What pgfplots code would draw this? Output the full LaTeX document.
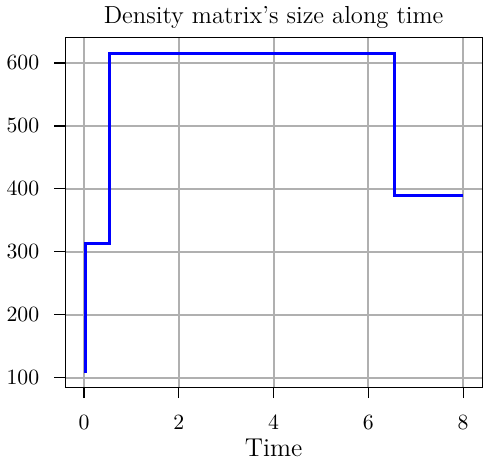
\documentclass[border=0pt]{standalone}
\usepackage{pgfplots}
\pgfplotsset{compat=1.18}
\definecolor{gridgray}{RGB}{176,176,176}
\begin{document}
\begin{tikzpicture}
\begin{axis}[
    scale only axis,
    width=210pt, height=176pt,
    xmin=-0.4, xmax=8.4,
    ymin=85, ymax=640,
    xtick={0,2,4,6,8},
    ytick={100,200,300,400,500,600},
    tick align=outside,
    tick pos=left,
    major tick length=5.5pt,
    tick style={black, line width=0.6pt},
    axis line style={line width=0.6pt},
    grid=major,
    grid style={gridgray, line width=0.9pt},
    title={Density matrix's size along time},
    title style={font=\fontsize{12.4}{14}\selectfont, yshift=-5pt},
    xlabel={Time},
    xlabel style={font=\fontsize{13}{15}\selectfont, yshift=2pt},
    tick label style={font=\fontsize{10.5}{12}\selectfont},
    yticklabel style={xshift=-4pt},
    xticklabel style={yshift=-5pt},
]
\addplot[const plot, blue, line width=1.5pt] coordinates {
    (0,110) (0.03,314) (0.535,615) (6.56,390) (8,390)
};
\end{axis}
\end{tikzpicture}
\end{document}
